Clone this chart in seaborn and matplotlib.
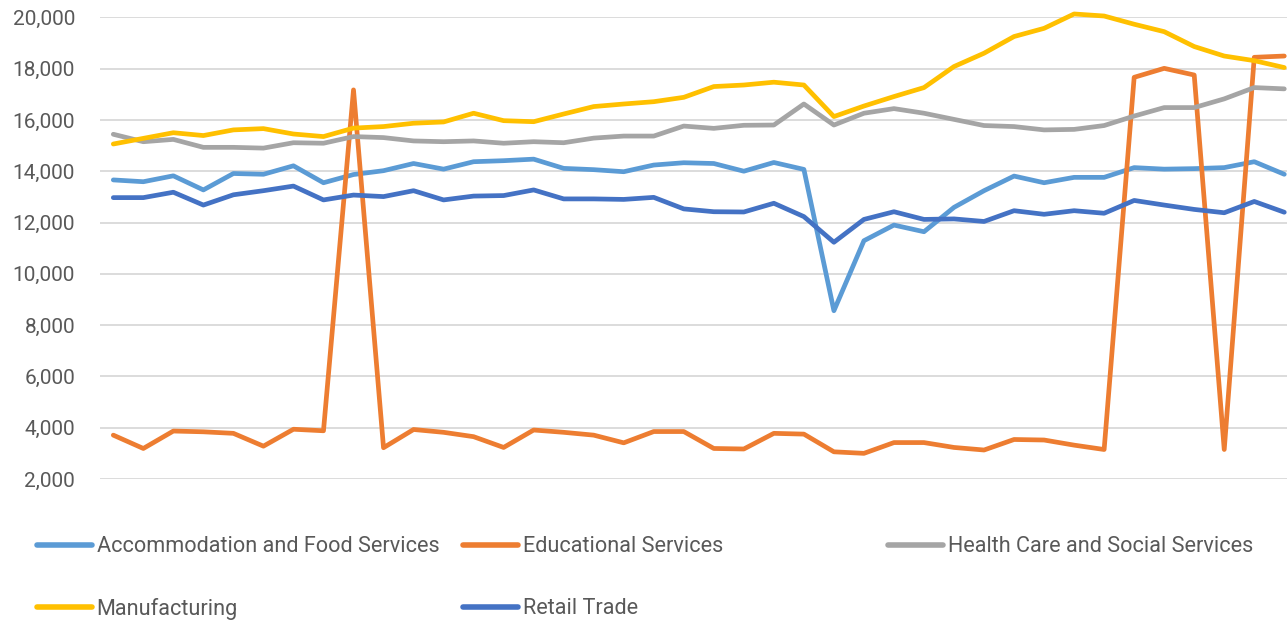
import numpy as np
import pandas as pd
import matplotlib.pyplot as plt
import seaborn as sns
from matplotlib.ticker import FuncFormatter

# --- data (40 periods) ---
periods = list(range(40))
series_names = ["Accommodation and Food Services", "Educational Services",
                "Health Care and Social Services", "Manufacturing", "Retail Trade"]

accommodation = [13660, 13590, 13820, 13270, 13910, 13880, 14210, 13550, 13870, 14020,
                 14300, 14080, 14370, 14410, 14470, 14110, 14060, 13980, 14240, 14330,
                 14300, 14000, 14340, 14070, 8560, 11290, 11900, 11640, 12590, 13240,
                 13810, 13550, 13760, 13760, 14140, 14080, 14100, 14140, 14370, 13880]
educational = [3710, 3190, 3870, 3840, 3780, 3280, 3940, 3880, 17170, 3220,
               3930, 3820, 3650, 3230, 3910, 3820, 3710, 3410, 3850, 3850,
               3190, 3170, 3780, 3750, 3060, 3000, 3420, 3420, 3230, 3130,
               3540, 3520, 3320, 3150, 17660, 18010, 17750, 3150, 18440, 18490]
health_care = [15440, 15150, 15240, 14930, 14930, 14900, 15110, 15090, 15350, 15310,
               15180, 15150, 15180, 15090, 15150, 15110, 15290, 15370, 15370, 15760,
               15670, 15790, 15800, 16620, 15800, 16260, 16440, 16260, 16020, 15780,
               15740, 15610, 15630, 15780, 16150, 16480, 16480, 16820, 17260, 17210]
manufacturing = [15060, 15280, 15500, 15390, 15610, 15660, 15450, 15350, 15680, 15740,
                 15870, 15920, 16260, 15970, 15930, 16230, 16520, 16620, 16710, 16880,
                 17300, 17360, 17470, 17360, 16130, 16540, 16910, 17260, 18080, 18600,
                 19250, 19570, 20130, 20050, 19730, 19440, 18860, 18490, 18310, 18040]
retail = [12970, 12970, 13180, 12680, 13080, 13240, 13420, 12880, 13070, 13010,
          13240, 12880, 13030, 13050, 13270, 12920, 12920, 12900, 12980, 12530,
          12420, 12410, 12750, 12230, 11230, 12120, 12420, 12120, 12140, 12040,
          12460, 12320, 12460, 12360, 12860, 12680, 12510, 12380, 12820, 12400]

y_ticks = list(range(2000, 20001, 2000))

palette = {
    "Accommodation and Food Services": "#5B9BD5",
    "Educational Services": "#ED7D31",
    "Health Care and Social Services": "#A5A5A5",
    "Manufacturing": "#FFC000",
    "Retail Trade": "#4472C4",
}

# long-form table for seaborn
values = [accommodation, educational, health_care, manufacturing, retail]
df = pd.concat(
    [pd.DataFrame({"period": periods, "value": v, "series": name})
     for name, v in zip(series_names, values)],
    ignore_index=True,
)

sns.set_style("white")
plt.rcParams["font.family"] = ["Roboto", "DejaVu Sans"]

W, H = 1287, 623
fig = plt.figure(figsize=(W / 100, H / 100), dpi=100)
ax_left, ax_right, ax_top, ax_bottom = 100, 1299, 17.3, 479
ax = fig.add_axes([ax_left / W, 1 - ax_bottom / H,
                   (ax_right - ax_left) / W, (ax_bottom - ax_top) / H])

sns.lineplot(data=df, x="period", y="value", hue="series", hue_order=series_names,
             palette=palette, linewidth=3.4, errorbar=None, ax=ax,
             solid_capstyle="round", solid_joinstyle="round", clip_on=False)

handles, labels = ax.get_legend_handles_labels()
ax.get_legend().remove()
handle_of = dict(zip(labels, handles))

ax.set_xlim(-0.443, 39.49)
ax.set_ylim(2000, 20000)
ax.set_yticks(y_ticks)
ax.yaxis.set_major_formatter(FuncFormatter(lambda v, p: f"{v:,.0f}"))
ax.set_xticks([])
ax.set_xlabel("")
ax.set_ylabel("")
for s in ax.spines.values():
    s.set_visible(False)
ax.yaxis.grid(True, color="#D9D9D9", linewidth=1.3)
ax.set_axisbelow(True)
ax.tick_params(axis="y", length=0, pad=18, labelsize=15, labelcolor="#595959")

# --- legend: Excel style, fixed column positions ---
legend_pos = {
    "Accommodation and Food Services": (37, 547),
    "Educational Services": (463, 547),
    "Health Care and Social Services": (888, 547),
    "Manufacturing": (37, 609),
    "Retail Trade": (463, 609),
}
for name, (px, py) in legend_pos.items():
    h = handle_of[name]
    h.set_linewidth(4.0)
    h.set_solid_capstyle("round")
    fig.legend([h], [name], loc="center left",
               bbox_to_anchor=(px / W, 1 - py / H), frameon=False,
               borderpad=0, borderaxespad=0, handlelength=2.55,
               handletextpad=0.2, fontsize=15.6, labelcolor="#595959")

fig.savefig("out.png", dpi=100)
